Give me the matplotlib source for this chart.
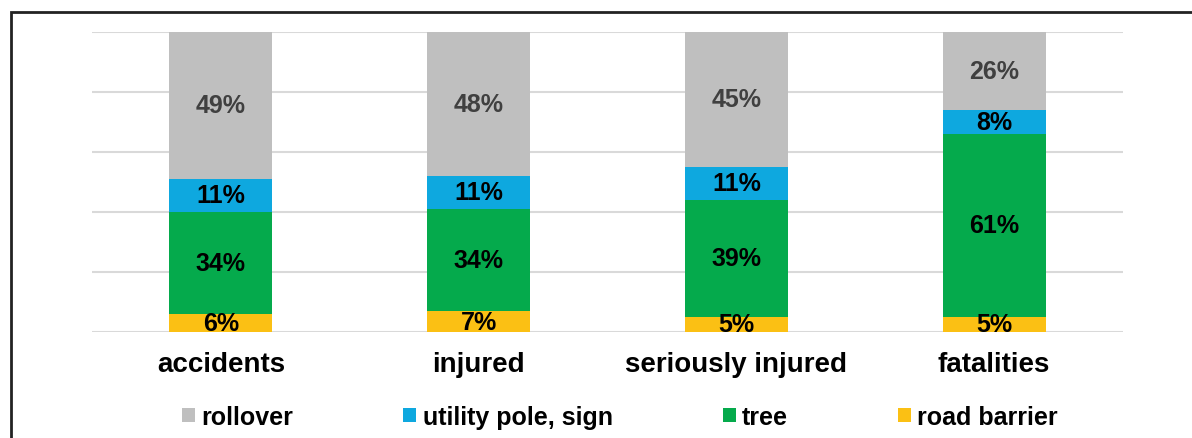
import matplotlib.pyplot as plt
import numpy as np
from matplotlib.patches import Rectangle

plt.rcParams['font.family'] = ['Liberation Sans', 'DejaVu Sans']

# Данные
categories = ['accidents', 'injured', 'seriously injured', 'fatalities']
series_names = ['road barrier', 'tree', 'utility pole, sign', 'rollover']
road_barrier = [6, 7, 5, 5]
tree = [34, 34, 39, 61]
utility_pole = [11, 11, 11, 8]
rollover = [49, 48, 45, 26]

colors = {
    'road barrier': '#FBC014',
    'tree': '#05AA4C',
    'utility pole, sign': '#0EA8DF',
    'rollover': '#BFBFBF',
}
label_colors = {
    'road barrier': 'black',
    'tree': 'black',
    'utility pole, sign': 'black',
    'rollover': '#404040',
}

fig = plt.figure(figsize=(11.92, 4.39), dpi=100)
ax = fig.add_axes([92 / 1192, 1 - 333 / 439, 1031 / 1192, 300 / 439])

x = np.arange(len(categories))
bottom = np.zeros(len(categories))
handles = {}
for name, vals in zip(series_names, [road_barrier, tree, utility_pole, rollover]):
    vals = np.array(vals, dtype=float)
    bars = ax.bar(x, vals, width=0.4, bottom=bottom, color=colors[name], zorder=3, label=name)
    handles[name] = bars
    for xi, b, v in zip(x, bottom, vals):
        ax.text(xi, b + v / 2, f'{int(v)}%', ha='center', va='center',
                fontsize=18, fontweight='bold', color=label_colors[name], zorder=4)
    bottom += vals

ax.set_xlim(-0.5, len(categories) - 0.5)
ax.set_ylim(0, 100)
ax.set_yticks(np.arange(0, 101, 20))
ax.set_yticklabels([])
ax.grid(axis='y', color='#D9D9D9', linewidth=1.5, zorder=0)
ax.tick_params(length=0)
for s in ax.spines.values():
    s.set_visible(False)
ax.set_xticks(x)
ax.set_xticklabels(categories, fontsize=20, fontweight='bold')
ax.tick_params(axis='x', pad=14)

# Легенда (порядок как на картинке)
leg_order = ['rollover', 'utility pole, sign', 'tree', 'road barrier']
fig.legend([handles[n] for n in leg_order], leg_order, loc='center',
           bbox_to_anchor=(620 / 1192, 1 - 418 / 439), ncol=4, frameon=False,
           prop={'size': 18, 'weight': 'bold'}, handlelength=0.52, handleheight=0.52,
           handletextpad=0.25, columnspacing=4.4, borderpad=0)

# Рамка (обрезана справа и снизу)
fig.patches.append(Rectangle((11 / 1192, -0.2), 1.2, 1.2 - 13 / 439,
                             transform=fig.transFigure, fill=False,
                             edgecolor='#222222', linewidth=2))

fig.savefig('out.png', dpi=100)
